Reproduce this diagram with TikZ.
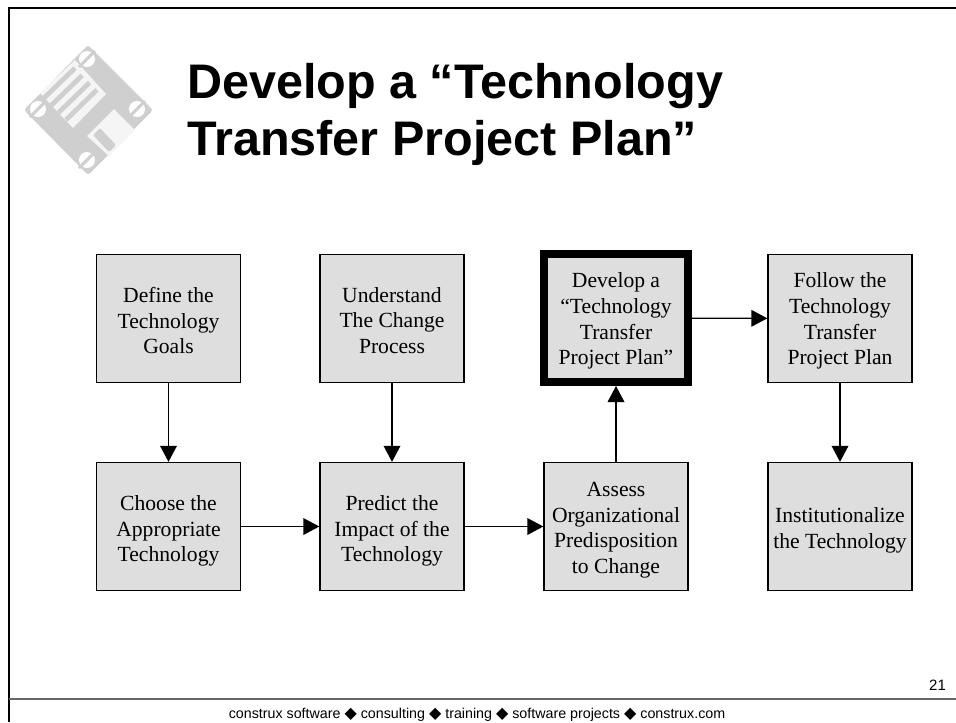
\documentclass[tikz,border=0pt]{standalone}
\usepackage{fontspec}
\setmainfont{Liberation Serif}
\newfontfamily\headfont{Liberation Sans}
\newfontfamily\symfont{DejaVu Sans}
\usetikzlibrary{arrows.meta}
\definecolor{boxgray}{gray}{0.87}
\definecolor{diskgray}{gray}{0.81}
\definecolor{disklight}{gray}{0.96}
\tikzset{
  stepbox/.style={draw=black,fill=boxgray,line width=1pt,minimum width=108pt,minimum height=96pt,inner sep=0pt},
  curbox/.style={stepbox,line width=6pt},
  steptext/.style={inner sep=0pt,align=center,font=\fontsize{16.2}{19.2}\selectfont},
  link/.style={draw=black,line width=1pt,-{Triangle[length=12pt,width=12.5pt]}},
  frameline/.style={draw=black,line width=1.5pt},
  titletext/.style={inner sep=0pt,anchor=base west,font=\headfont\bfseries\fontsize{36.4}{45}\selectfont},
  foottext/.style={inner sep=0pt,anchor=base,font=\headfont\fontsize{10.7}{12}\selectfont}
}
\newcommand{\dsep}{ {\symfont\fontsize{12}{12}\selectfont ◆} }
\begin{document}
\begin{tikzpicture}[x=0.75pt,y=-0.75pt]
    \useasboundingbox (0,0) rectangle (956,722);
    \fill[white] (0,0) rectangle (956,722);
    \draw[frameline] (956,8) -- (9,8) -- (9,722);
    \draw[draw=black!60,line width=1.4pt] (9,699) -- (956,699);
    \fill[diskgray,rounded corners=2pt] (88,45) -- (153,110) -- (88,175) -- (24,110) -- cycle;
    \fill[disklight] (40,93) -- (75,60) -- (106,94) -- (73,128) -- cycle;
    \foreach \i in {0,1,2,3} {
        \draw[diskgray,line width=3.6pt] (44+7.3*\i,98+7.3*\i) -- (75+7.3*\i,68+7.3*\i);
    }
    \fill[disklight] (87,136) -- (114,109) -- (135,130) -- (109,156) -- cycle;
    \fill[diskgray,rounded corners=1pt] (93,135) -- (100,128) -- (116,145) -- (109,152) -- cycle;
    \foreach \x/\y in {87/59,38/109,137/109,87/160} {
        \fill[white] (\x,\y) circle (8);
        \draw[diskgray,line width=2.2pt] (\x-8,\y+8) -- (\x+8,\y-8);
    }
    \node[titletext] (titleA) at (187,98) {Develop a “Technology};
    \node[titletext] (titleB) at (187,155) {Transfer Project Plan”};
    \node[stepbox] (goals) at (168.5,318.5) {};
    \node[stepbox] (change) at (392,318.5) {};
    \node[curbox] (plan) at (616,318) {};
    \node[stepbox] (follow) at (840,318.5) {};
    \node[stepbox] (choose) at (168.5,526.5) {};
    \node[stepbox] (predict) at (392,526.5) {};
    \node[stepbox] (assess) at (616,526.5) {};
    \node[stepbox] (inst) at (840,526.5) {};
    \node[steptext] (goalstext) at (168.5,320.5) {Define the\\Technology\\Goals};
    \node[steptext] (changetext) at (392,320.5) {Understand\\The Change\\Process};
    \node[steptext] (plantext) at (616,321) {Develop a\\“Technology\\Transfer\\Project Plan”};
    \node[steptext] (followtext) at (840,321) {Follow the\\Technology\\Transfer\\Project Plan};
    \node[steptext] (choosetext) at (168.5,531) {Choose the\\Appropriate\\Technology};
    \node[steptext] (predicttext) at (392,531) {Predict the\\Impact of the\\Technology};
    \node[steptext] (assesstext) at (616,530) {Assess\\Organizational\\Predisposition\\to Change};
    \node[steptext] (insttext) at (840,530.5) {Institutionalize\\the Technology};
    \draw[link] (goals) -- (choose);
    \draw[link] (change) -- (predict);
    \draw[link] (assess) -- (plan);
    \draw[link] (plan) -- (follow);
    \draw[link] (follow) -- (inst);
    \draw[link] (choose) -- (predict);
    \draw[link] (predict) -- (assess);
    \node[foottext,font=\headfont\fontsize{11.25}{12}\selectfont] (pagenum) at (937.5,690) {21};
    \node[foottext] (footer) at (477,718) {construx software\dsep consulting\dsep training\dsep software projects\dsep construx.com};
\end{tikzpicture}
\end{document}
